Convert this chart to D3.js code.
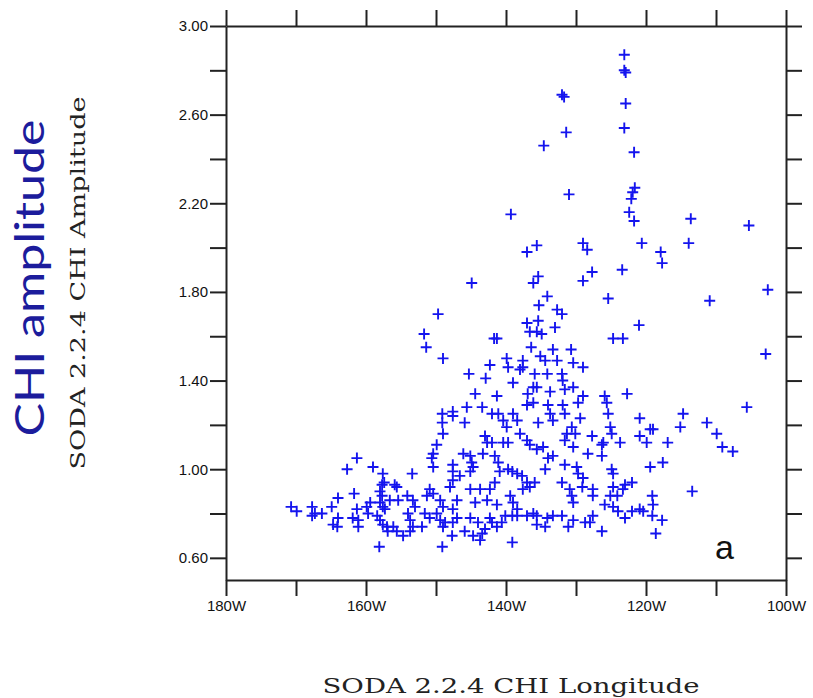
<!DOCTYPE html>
<html>
<head>
<meta charset="utf-8">
<script src="https://cdn.jsdelivr.net/npm/d3@7"></script>
<style>
  body { margin: 0; background: #fff; }
  svg { display: block; }
</style>
</head>
<body>
<div id="chart"></div>
<script>
// CHI amplitude vs longitude scatter (SODA 2.2.4)

// longitude in degrees west, amplitude
const lonW = [
  123.1, 123.1, 122.9, 132.0, 131.7, 122.9, 123.1, 131.4, 134.6, 121.7,
  131.0, 121.6, 121.9, 122.1, 122.4, 121.7, 139.3, 113.6, 105.3, 120.6,
  135.6, 129.0, 128.4, 117.9, 137.0, 113.9, 135.4, 136.1, 134.1, 135.3,
  132.7, 137.0, 135.4, 136.6, 135.6, 134.9, 133.0, 136.4, 133.3, 135.1,
  134.4, 132.7, 134.1, 135.9, 139.0, 136.1, 135.6, 136.9, 144.4, 141.3,
  133.7, 144.9, 149.7, 151.7, 151.4, 149.0, 141.7, 141.3, 142.3, 145.3,
  142.9, 139.9, 139.7, 137.6, 137.6, 138.0, 127.7, 129.0, 123.4, 117.7,
  125.4, 121.0, 124.7, 123.3, 130.7, 132.0, 130.4, 129.0, 131.9, 130.4,
  131.6, 122.7, 125.9, 129.0, 132.0, 110.9, 102.6, 102.9,
  170.7, 169.9, 167.7, 167.7, 167.3, 166.3, 164.9, 164.0, 164.0, 164.7,
  164.1, 162.7, 161.3, 161.7, 161.9, 161.1, 161.1, 161.3, 159.9, 159.4,
  159.0, 157.6, 157.4, 157.7, 155.9, 155.6, 158.0, 157.7, 158.0, 157.6,
  157.3, 158.4, 158.0, 157.6, 157.0, 156.6, 155.4, 154.1, 153.3, 153.0,
  153.4, 154.0, 153.7, 153.3, 153.7, 156.1, 155.6, 154.7, 156.9, 158.1,
  159.7,
  149.1, 149.1, 147.6, 147.6, 145.6, 145.9, 143.4, 142.0, 141.1, 140.4,
  139.9, 139.0, 138.4, 137.0, 136.1, 135.4, 134.0, 133.7, 133.3, 149.0,
  149.9, 150.4, 150.6, 150.4, 147.6, 147.6, 146.1, 145.1, 144.9, 144.7,
  145.1, 143.0, 142.7, 142.0, 140.4, 139.7, 143.3, 141.6, 141.1, 140.9,
  139.7, 139.1, 138.0, 137.0, 136.6, 135.6, 134.7, 134.0, 133.3, 138.4,
  137.7, 137.0, 137.6, 136.6, 134.4, 135.9, 146.6, 147.6, 148.0, 150.9,
  150.4, 151.3, 145.1, 143.7, 142.3, 141.6, 149.4, 149.0, 149.9, 150.9,
  147.0, 147.6, 144.4, 142.7, 141.3, 139.4, 139.0, 138.4, 140.1, 140.6,
  136.1, 135.6, 134.1, 133.3, 151.6, 152.0, 149.4, 148.7, 147.6, 147.0,
  149.0, 147.7, 145.1, 144.0, 142.3, 145.9, 144.7, 143.4, 143.0, 143.7,
  142.0, 141.3, 139.1, 138.4, 137.0, 135.6, 134.4, 139.1, 149.1,
  131.9, 131.6, 129.7, 129.4, 125.6, 125.4, 120.9, 114.7, 115.1, 119.4,
  119.0, 130.6, 131.3, 131.6, 130.1, 127.7, 125.1, 124.9, 126.1, 126.3,
  126.3, 123.7, 120.9, 119.9, 116.9, 130.4, 128.3, 131.6, 129.9, 129.7,
  129.0, 124.9, 124.7, 119.4, 117.6, 122.0, 123.0, 123.3, 124.7, 125.1,
  127.6, 127.6, 129.1, 130.9, 130.6, 130.4, 132.0, 124.1, 119.1, 119.0,
  113.4, 125.9, 124.7, 124.0, 123.0, 122.0, 120.9, 120.4, 119.1, 117.7,
  127.6, 130.4, 128.7, 128.0, 131.1, 132.0, 126.3, 118.6, 105.6, 111.3,
  109.9, 109.1, 107.6
];

const amp = [
  2.87, 2.80, 2.79, 2.69, 2.68, 2.65, 2.54, 2.52, 2.46, 2.43,
  2.24, 2.27, 2.25, 2.22, 2.16, 2.12, 2.15, 2.13, 2.10, 2.02,
  2.01, 2.02, 1.99, 1.98, 1.98, 2.02, 1.87, 1.84, 1.78, 1.74,
  1.72, 1.66, 1.67, 1.62, 1.62, 1.61, 1.64, 1.55, 1.54, 1.51,
  1.49, 1.49, 1.43, 1.43, 1.39, 1.37, 1.37, 1.34, 1.34, 1.33,
  1.35, 1.84, 1.70, 1.61, 1.55, 1.50, 1.59, 1.59, 1.47, 1.43,
  1.41, 1.50, 1.46, 1.49, 1.46, 1.45, 1.89, 1.85, 1.90, 1.93,
  1.77, 1.65, 1.59, 1.59, 1.54, 1.70, 1.48, 1.46, 1.40, 1.37,
  1.36, 1.34, 1.33, 1.33, 1.43, 1.76, 1.81, 1.52,
  0.83, 0.81, 0.83, 0.79, 0.80, 0.80, 0.83, 0.87, 0.78, 0.75,
  0.74, 1.00, 1.05, 0.89, 0.78, 0.77, 0.74, 0.82, 0.83, 0.85,
  1.01, 0.98, 0.94, 0.93, 0.93, 0.92, 0.90, 0.88, 0.85, 0.83,
  0.82, 0.79, 0.77, 0.75, 0.74, 0.86, 0.86, 0.88, 0.86, 0.83,
  0.98, 0.80, 0.77, 0.74, 0.72, 0.74, 0.72, 0.70, 0.72, 0.65,
  0.80,
  1.25, 1.21, 1.26, 1.24, 1.28, 1.21, 1.28, 1.25, 1.25, 1.22,
  1.19, 1.25, 1.22, 1.29, 1.30, 1.21, 1.29, 1.25, 1.22, 1.16,
  1.11, 1.07, 1.05, 1.01, 1.02, 0.99, 1.07, 1.06, 1.03, 1.01,
  0.99, 1.15, 1.12, 1.12, 1.12, 1.12, 1.07, 1.06, 1.03, 0.99,
  1.00, 0.99, 1.16, 1.13, 1.11, 1.09, 1.10, 1.05, 1.06, 0.98,
  0.97, 0.94, 0.91, 0.92, 1.00, 0.94, 0.97, 0.95, 0.92, 0.91,
  0.89, 0.88, 0.91, 0.91, 0.91, 0.94, 0.86, 0.83, 0.80, 0.78,
  0.86, 0.82, 0.85, 0.86, 0.84, 0.88, 0.85, 0.82, 0.79, 0.76,
  0.80, 0.79, 0.78, 0.79, 0.80, 0.74, 0.77, 0.76, 0.76, 0.78,
  0.74, 0.70, 0.78, 0.76, 0.78, 0.72, 0.70, 0.71, 0.73, 0.68,
  0.76, 0.74, 0.79, 0.79, 0.79, 0.75, 0.74, 0.67, 0.65,
  1.29, 1.25, 1.30, 1.23, 1.30, 1.25, 1.23, 1.25, 1.19, 1.18,
  1.18, 1.19, 1.16, 1.13, 1.16, 1.15, 1.19, 1.16, 1.12, 1.11,
  1.06, 1.12, 1.15, 1.12, 1.12, 1.10, 1.07, 1.02, 1.01, 0.98,
  0.96, 1.00, 0.98, 1.01, 1.03, 0.94, 0.93, 0.91, 0.92, 0.88,
  0.91, 0.88, 0.92, 0.91, 0.88, 0.85, 0.94, 0.88, 0.88, 0.84,
  0.90, 0.84, 0.83, 0.81, 0.78, 0.81, 0.82, 0.81, 0.79, 0.77,
  0.79, 0.77, 0.76, 0.76, 0.74, 0.79, 0.72, 0.71, 1.28, 1.21,
  1.16, 1.10, 1.08
];

// axis ticks
const xTicks = [180, 170, 160, 150, 140, 130, 120, 110, 100];
const xLabeled = [180, 160, 140, 120, 100];
const yTicks = [3.0, 2.8, 2.6, 2.4, 2.2, 2.0, 1.8, 1.6, 1.4, 1.2, 1.0, 0.8, 0.6];
const yLabeled = [3.0, 2.6, 2.2, 1.8, 1.4, 1.0, 0.6];

const points = lonW.map((d, i) => ({ lon: d, amp: amp[i] }));

const margin = { top: 26, right: 27, bottom: 118, left: 226 };
const width = 813 - margin.left - margin.right;
const height = 698 - margin.top - margin.bottom;

const root = d3.select("#chart")
  .append("svg")
  .attr("width", 813)
  .attr("height", 698);

const svg = root.append("g")
  .attr("transform", `translate(${margin.left},${margin.top})`);

const x = d3.scaleLinear().domain([180, 100]).range([0, width]);
const y = d3.scaleLinear().domain([0.5, 3.0]).range([height, 0]);

const tickLen = 16;

function styleAxis(g) {
  g.select(".domain").attr("stroke", "#222").attr("stroke-width", 2);
  g.selectAll(".tick line").attr("stroke", "#222").attr("stroke-width", 2);
  g.selectAll(".tick text")
    .attr("fill", "#111")
    .style("font-family", "'Liberation Sans', Arial, sans-serif")
    .style("font-size", "15px");
}

// bottom axis with labels
svg.append("g")
  .attr("transform", `translate(0,${height})`)
  .call(d3.axisBottom(x)
    .tickValues(xTicks)
    .tickSize(tickLen)
    .tickSizeOuter(0)
    .tickPadding(4)
    .tickFormat(d => xLabeled.includes(d) ? d + "W" : ""))
  .call(styleAxis);

// top axis
svg.append("g")
  .call(d3.axisTop(x).tickValues(xTicks).tickSize(tickLen).tickSizeOuter(0).tickFormat(""))
  .call(styleAxis);

// left axis with labels
svg.append("g")
  .call(d3.axisLeft(y)
    .tickValues(yTicks)
    .tickSize(tickLen)
    .tickSizeOuter(0)
    .tickPadding(2)
    .tickFormat(d => yLabeled.some(v => Math.abs(v - d) < 1e-6) ? d3.format(".2f")(d) : ""))
  .call(styleAxis);

// right axis
svg.append("g")
  .attr("transform", `translate(${width},0)`)
  .call(d3.axisRight(y).tickValues(yTicks).tickSize(tickLen).tickSizeOuter(0).tickFormat(""))
  .call(styleAxis);

// markers
svg.append("g")
  .selectAll("path")
  .data(points)
  .enter()
  .append("path")
  .attr("transform", d => `translate(${x(d.lon)},${y(d.amp)})`)
  .attr("d", "M-5.5,0H5.5M0,-5.5V5.5")
  .attr("fill", "none")
  .attr("stroke", "#1414ee")
  .attr("stroke-width", 1.9);

// panel letter
svg.append("text")
  .attr("x", width - 71)
  .attr("y", height - 21)
  .style("font-family", "'Liberation Sans', Arial, sans-serif")
  .style("font-size", "34px")
  .attr("fill", "#111")
  .text("a");

// axis titles
root.append("text")
  .attr("x", 511)
  .attr("y", 693)
  .attr("text-anchor", "middle")
  .attr("textLength", 377)
  .attr("lengthAdjust", "spacingAndGlyphs")
  .style("font-family", "'DejaVu Serif', serif")
  .style("font-size", "20px")
  .attr("fill", "#222")
  .text("SODA 2.2.4 CHI Longitude");

root.append("text")
  .attr("transform", "translate(85,283) rotate(-90)")
  .attr("text-anchor", "middle")
  .attr("textLength", 373)
  .attr("lengthAdjust", "spacingAndGlyphs")
  .style("font-family", "'DejaVu Serif', serif")
  .style("font-size", "20px")
  .attr("fill", "#222")
  .text("SODA 2.2.4 CHI Amplitude");

root.append("text")
  .attr("transform", "translate(44,278) rotate(-90)")
  .attr("text-anchor", "middle")
  .attr("textLength", 317)
  .attr("lengthAdjust", "spacingAndGlyphs")
  .style("font-family", "Lato, 'Open Sans', sans-serif")
  .style("font-size", "40px")
  .attr("fill", "#1c1c9c")
  .text("CHI amplitude");
</script>
</body>
</html>
